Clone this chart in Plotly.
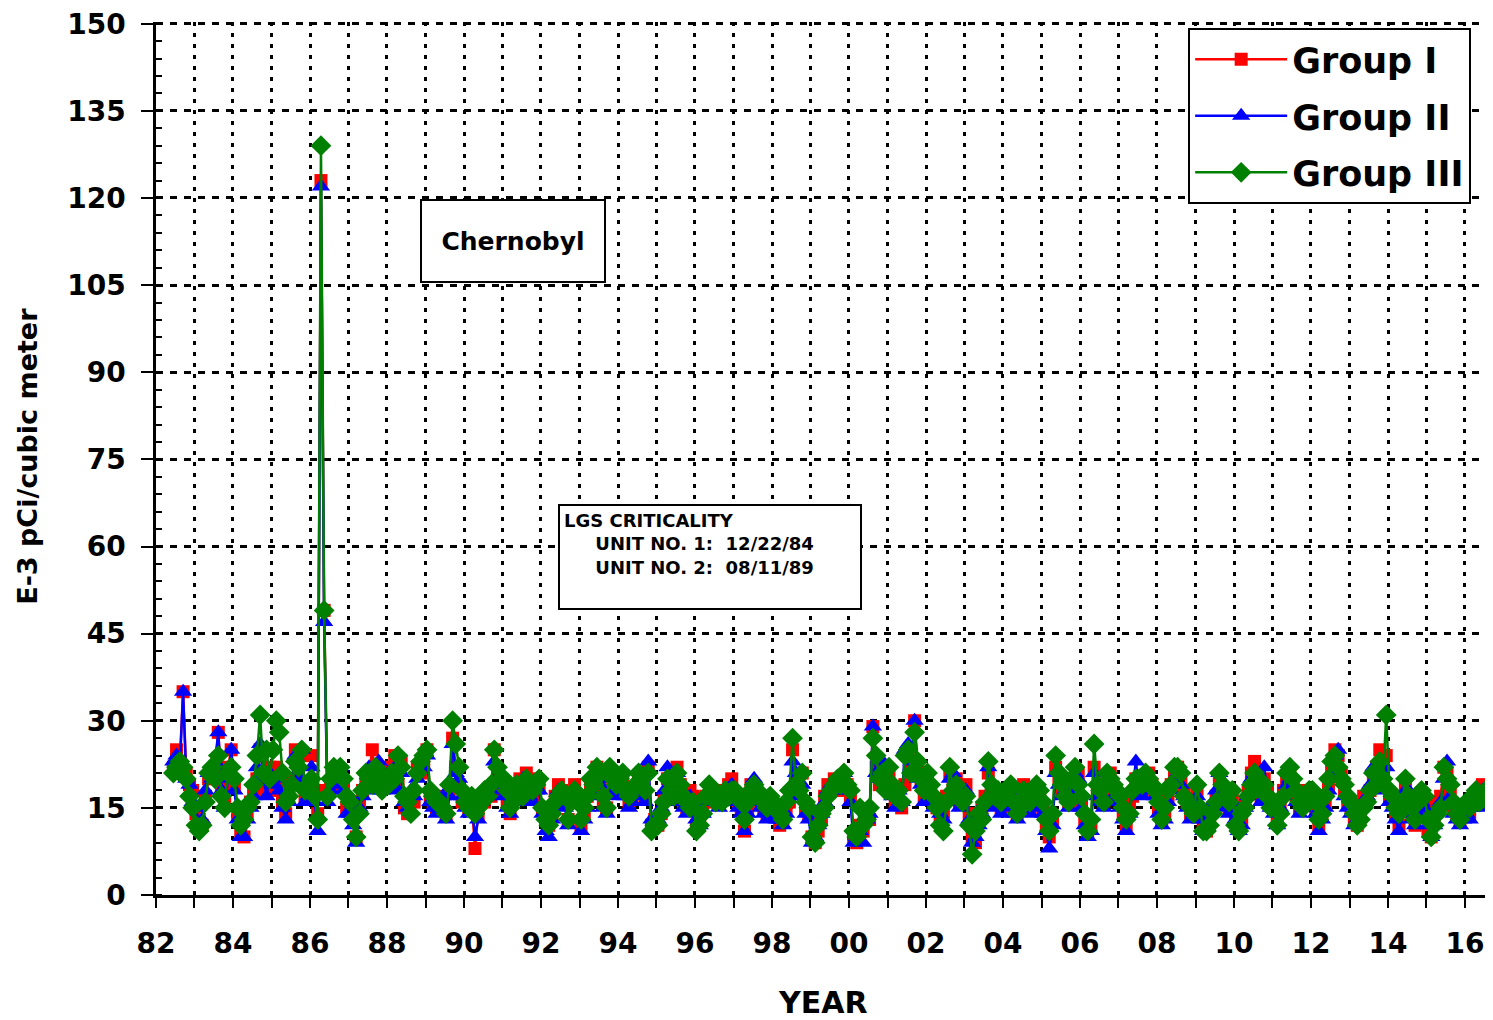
import pandas as pd
import plotly.graph_objects as go

# Monthly readings, Jun 1982 .. Dec 2016 (E-3 pCi / cubic meter)
start_month = "1982-06-01"

group1 = [
    22, 25, 23, 35, 21, 19, 18,                      # 1982 Jun-Dec
    14, 13, 12, 17, 20, 21, 22, 28, 19, 16, 22, 25,  # 1983
    19, 14, 11, 10, 14, 16, 18, 20, 25, 21, 18, 22,  # 1984
    18, 22, 19, 16, 14, 18, 20, 25, 21, 24, 17, 18,  # 1985
    24, 18, 14, 123, 49, 18, 19, 21, 20, 21, 19, 15, # 1986
    15, 14, 10, 16, 18, 20, 21, 25, 20, 22, 19, 21,  # 1987
    20, 22, 24, 19, 23, 15, 14, 17, 16, 22, 21, 23,  # 1988
    25, 17, 16, 15, 17, 16, 14, 18, 27, 22, 19, 16,  # 1989
    17, 15, 16, 8, 14, 17, 16, 18, 17, 25, 21, 18,   # 1990
    19, 16, 14, 17, 18, 20, 19, 21, 18, 17, 20, 19,  # 1991
    15, 13, 12, 14, 17, 19, 18, 16, 13, 17, 19, 17,  # 1992
    12, 14, 17, 19, 18, 22, 20, 16, 15, 21, 19, 18,  # 1993
    19, 20, 18, 16, 17, 18, 20, 19, 17, 22, 12, 13,  # 1994
    12, 14, 17, 20, 19, 17, 22, 19, 16, 15, 18, 17,  # 1995
    12, 13, 15, 17, 16, 18, 17, 16, 18, 17, 19, 20,  # 1996
    17, 16, 15, 11, 15, 19, 18, 17, 16, 15, 14, 16,  # 1997
    15, 14, 12, 13, 15, 16, 25, 20, 18, 21, 15, 14,  # 1998
    10, 9, 11, 13, 17, 19, 18, 20, 19, 18, 20, 19,   # 1999
    17, 10, 9, 12, 11, 14, 13, 29, 22, 19, 21, 20,   # 2000
    21, 18, 16, 17, 15, 19, 24, 22, 30, 22, 20, 17,  # 2001
    20, 18, 16, 15, 13, 14, 17, 21, 19, 20, 16, 18,  # 2002
    19, 14, 10, 9, 13, 15, 17, 21, 18, 16, 17, 15,   # 2003
    16, 18, 17, 15, 14, 16, 19, 17, 15, 16, 18, 17,  # 2004
    15, 12, 10, 13, 22, 20, 18, 19, 16, 17, 20, 21,  # 2005
    16, 13, 11, 12, 22, 18, 17, 16, 20, 21, 18, 17,  # 2006
    16, 14, 12, 15, 17, 20, 19, 18, 20, 21, 19, 18,  # 2007
    15, 13, 14, 17, 19, 21, 22, 20, 18, 16, 14, 15,  # 2008
    18, 14, 12, 11, 13, 15, 17, 20, 18, 16, 15, 17,  # 2009
    14, 12, 13, 16, 18, 21, 23, 19, 17, 20, 18, 16,  # 2010
    15, 13, 16, 18, 20, 21, 19, 17, 15, 16, 18, 17,  # 2011
    17, 15, 12, 14, 16, 19, 22, 25, 24, 21, 18, 16,  # 2012
    15, 13, 12, 14, 17, 16, 18, 20, 22, 25, 19, 24,  # 2013
    17, 16, 14, 12, 15, 19, 17, 14, 12, 15, 17, 16,  # 2014
    11, 10, 13, 16, 17, 22, 21, 18, 15, 14, 13, 14,  # 2015
    15, 14, 16, 17, 18, 19, 16, 17, 20, 18, 17, 16,  # 2016
]

group2 = [
    23, 24, 22, 35, 20, 19, 16,
    15, 12, 13, 18, 21, 20, 23, 28, 18, 15, 20, 25,
    18, 13, 10, 10, 13, 15, 17, 22, 26, 20, 17, 21,
    19, 20, 18, 15, 13, 16, 19, 24, 20, 25, 16, 17,
    22, 16, 11, 122, 47, 16, 18, 19, 21, 22, 18, 14,
    14, 12, 9, 15, 17, 19, 22, 18, 20, 23, 18, 20,
    21, 20, 22, 18, 21, 16, 15, 18, 17, 20, 22, 22,
    24, 16, 15, 14, 15, 17, 13, 17, 26, 21, 20, 17,
    15, 14, 16, 10, 13, 16, 17, 17, 18, 23, 20, 19,
    17, 15, 14, 16, 17, 18, 20, 19, 17, 16, 18, 18,
    14, 11, 10, 13, 16, 18, 17, 15, 12, 16, 18, 16,
    11, 13, 15, 18, 17, 21, 19, 15, 14, 20, 18, 17,
    18, 19, 17, 15, 16, 17, 19, 18, 16, 23, 13, 12,
    13, 15, 18, 22, 18, 16, 21, 18, 15, 14, 17, 16,
    13, 12, 14, 16, 17, 17, 18, 15, 17, 18, 18, 19,
    16, 15, 14, 11, 14, 18, 20, 16, 15, 14, 13, 15,
    14, 13, 13, 12, 14, 17, 23, 21, 17, 19, 14, 13,
    9, 10, 12, 14, 16, 18, 19, 19, 18, 19, 21, 18,
    16, 9, 10, 11, 9, 13, 14, 29, 21, 20, 23, 19,
    20, 17, 15, 18, 16, 25, 26, 23, 30, 20, 19, 16,
    19, 17, 15, 16, 14, 13, 16, 20, 21, 19, 15, 17,
    18, 13, 9, 10, 12, 14, 16, 22, 17, 15, 16, 14,
    15, 17, 16, 14, 13, 15, 18, 16, 14, 15, 17, 16,
    14, 11, 8, 12, 21, 19, 17, 18, 15, 18, 21, 20,
    15, 12, 10, 11, 21, 17, 16, 15, 19, 20, 17, 16,
    15, 13, 11, 14, 18, 23, 18, 17, 19, 20, 18, 17,
    14, 12, 13, 16, 18, 20, 21, 19, 17, 15, 13, 14,
    17, 13, 11, 12, 14, 16, 18, 21, 17, 15, 14, 16,
    13, 11, 12, 15, 17, 20, 21, 18, 16, 22, 17, 15,
    14, 12, 15, 17, 19, 20, 18, 16, 14, 15, 17, 16,
    16, 14, 11, 13, 15, 18, 21, 24, 25, 20, 17, 15,
    14, 12, 13, 15, 16, 17, 19, 22, 20, 23, 18, 22,
    16, 15, 13, 11, 14, 18, 18, 13, 12, 14, 16, 15,
    12, 10, 12, 15, 16, 20, 23, 17, 14, 13, 12, 13,
    14, 13, 15, 16, 17, 18, 15, 16, 19, 17, 16, 15,
]

group3 = [
    21, 22, 23, 22, 20, 17, 15,
    12, 11, 12, 16, 21, 22, 20, 24, 17, 15, 21, 22,
    20, 15, 12, 13, 15, 16, 19, 24, 31, 21, 25, 20,
    25, 30, 28, 21, 16, 17, 19, 23, 22, 25, 18, 19,
    20, 17, 13, 129, 49, 17, 20, 22, 21, 22, 20, 17,
    16, 13, 10, 14, 18, 21, 20, 19, 22, 21, 18, 20,
    19, 21, 20, 24, 22, 17, 16, 14, 18, 21, 23, 24,
    25, 18, 17, 16, 16, 15, 14, 19, 30, 26, 22, 18,
    16, 15, 17, 14, 15, 16, 18, 17, 19, 25, 22, 20,
    20, 18, 15, 16, 19, 18, 17, 20, 19, 18, 19, 20,
    15, 13, 12, 14, 16, 17, 18, 17, 13, 16, 18, 16,
    13, 15, 17, 20, 19, 22, 21, 17, 15, 22, 20, 19,
    20, 21, 18, 17, 18, 19, 21, 20, 18, 21, 11, 12,
    12, 14, 16, 20, 18, 17, 21, 19, 17, 16, 15, 16,
    11, 12, 14, 17, 19, 18, 16, 17, 16, 18, 17, 18,
    18, 17, 16, 13, 16, 18, 19, 18, 17, 16, 15, 17,
    16, 15, 14, 13, 16, 18, 27, 19, 18, 21, 16, 15,
    10, 9, 12, 14, 15, 17, 18, 19, 20, 19, 21, 19,
    18, 11, 10, 15, 12, 13, 15, 27, 24, 20, 21, 18,
    22, 19, 17, 18, 16, 24, 25, 21, 28, 23, 20, 18,
    21, 19, 17, 15, 12, 11, 16, 22, 18, 19, 17, 16,
    17, 12, 7, 11, 14, 13, 16, 23, 19, 17, 18, 16,
    17, 18, 19, 16, 14, 15, 18, 17, 16, 17, 19, 18,
    16, 13, 11, 14, 24, 21, 19, 17, 16, 20, 22, 19,
    17, 14, 11, 13, 26, 19, 18, 16, 21, 20, 19, 18,
    17, 15, 13, 14, 18, 20, 20, 19, 21, 20, 19, 18,
    16, 13, 15, 18, 19, 22, 22, 21, 17, 16, 15, 14,
    19, 15, 11, 11, 12, 14, 16, 21, 19, 17, 16, 18,
    12, 11, 14, 15, 17, 19, 21, 20, 18, 19, 17, 15,
    16, 12, 14, 17, 21, 22, 20, 18, 16, 15, 17, 18,
    18, 16, 13, 14, 17, 20, 23, 24, 22, 20, 19, 17,
    16, 14, 12, 13, 15, 16, 18, 21, 19, 23, 20, 31,
    18, 17, 15, 14, 16, 20, 17, 15, 13, 16, 18, 17,
    13, 10, 12, 14, 15, 22, 20, 19, 16, 14, 13, 15,
    16, 15, 17, 18, 16, 17, 18, 16, 17, 19, 18, 17,
]

series_names = ["Group I", "Group II", "Group III"]
series_values = [group1, group2, group3]
series_colors = ["#FF0000", "#0000FF", "#008000"]
series_symbols = ["square", "triangle-up", "diamond"]
series_sizes = [13, 16, 16]

dates = pd.date_range(start=start_month, periods=len(group1), freq="MS") + pd.Timedelta(days=14)

FONT = "DejaVu Sans, Liberation Sans, sans-serif"

fig = go.Figure()
for name, vals, col, sym, sz in zip(series_names, series_values, series_colors, series_symbols, series_sizes):
    fig.add_trace(go.Scatter(
        x=dates, y=vals, name=name, mode="lines+markers",
        line=dict(color=col, width=2.5),
        marker=dict(color=col, symbol=sym, size=sz, line=dict(width=0)),
        legendgroup=name,
    ))

# page body has an 8px margin: figure is offset by (8, 8)
fig.update_layout(
    width=1485, height=1012,
    margin=dict(l=148, r=0, t=14, b=125),
    plot_bgcolor="white", paper_bgcolor="white",
    font=dict(family=FONT, color="black"),
    showlegend=True,
    legend=dict(
        x=0.772, y=0.993, xanchor="left", yanchor="top",
        bgcolor="white", bordercolor="black", borderwidth=2,
        font=dict(family=FONT, size=35, color="black", weight="bold"),
        tracegroupgap=8, itemwidth=92,
        entrywidth=230, entrywidthmode="pixels",
    ),
)

VDASH = "4px,7px"
HDASH = "7px,7px"

fig.update_xaxes(
    type="date",
    range=["1982-01-01", "2016-09-23"],
    tick0="1982-01-01", dtick="M24", tickformat="%y",
    ticks="outside", ticklen=10, tickwidth=2, tickcolor="black",
    tickfont=dict(family=FONT, size=28, color="black", weight="bold"),
    ticklabelstandoff=12,
    showline=True, linewidth=2.5, linecolor="black",
    showgrid=True, gridcolor="black", griddash=VDASH, gridwidth=3,
    minor=dict(dtick="M12", tick0="1982-01-01", ticks="outside", ticklen=10, tickwidth=2,
               tickcolor="black", showgrid=True, gridcolor="black", griddash=VDASH, gridwidth=3),
    zeroline=False,
)

fig.update_yaxes(
    range=[0, 150.3], tick0=0, dtick=15,
    ticks="outside", ticklen=12, tickwidth=2, tickcolor="black",
    tickfont=dict(family=FONT, size=28, color="black", weight="bold"),
    ticklabelstandoff=10, ticklabeloverflow="allow",
    showline=True, linewidth=2.5, linecolor="black",
    showgrid=True, gridcolor="black", griddash=HDASH, gridwidth=3,
    minor=dict(dtick=3, ticks="inside", ticklen=6, tickwidth=2, tickcolor="black", showgrid=False),
    zeroline=False,
)

# axis titles
fig.add_annotation(text="<b>E-3 pCi/cubic meter</b>", xref="paper", yref="paper",
                   x=-0.0957, y=0.502, xanchor="center", yanchor="middle",
                   textangle=-90, showarrow=False,
                   font=dict(family=FONT, size=27, color="black"))
fig.add_annotation(text="<b>YEAR</b>", xref="paper", yref="paper",
                   x=0.499, y=-0.1237, xanchor="center", yanchor="middle", showarrow=False,
                   font=dict(family=FONT, size=30, color="black"))

# text boxes
fig.add_annotation(text="<b>Chernobyl</b>", xref="paper", yref="paper",
                   x=0.267, y=0.749, xanchor="center", yanchor="middle", showarrow=False,
                   width=176, height=74, bgcolor="white",
                   bordercolor="black", borderwidth=2, borderpad=3,
                   font=dict(family=FONT, size=25, color="black"))

nb = "&nbsp;" * 5
lgs_text = ("<b>LGS CRITICALITY<br>" + nb + "UNIT NO. 1:&nbsp;&nbsp;12/22/84<br>"
            + nb + "UNIT NO. 2:&nbsp;&nbsp;08/11/89</b>")
fig.add_annotation(text=lgs_text, xref="paper", yref="paper",
                   x=0.4147, y=0.3866, xanchor="center", yanchor="middle", showarrow=False,
                   width=292, height=94, align="left", valign="top",
                   bgcolor="white", bordercolor="black", borderwidth=2, borderpad=4,
                   font=dict(family=FONT, size=18, color="black"))

fig.write_html("out.html")
